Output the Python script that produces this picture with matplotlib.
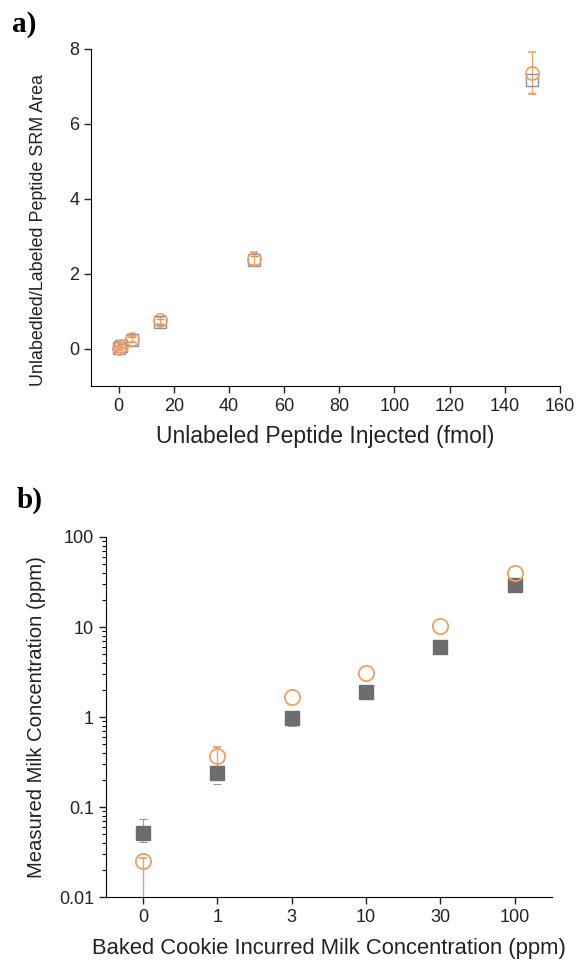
import matplotlib
matplotlib.use('Agg')
import matplotlib.pyplot as plt
import numpy as np

plt.rcParams['font.family'] = ['Liberation Sans', 'DejaVu Sans']

# panel a data
inj = [0, 1, 5, 15, 49, 150]
ratio_sq = [0.01, 0.06, 0.24, 0.70, 2.36, 7.17]
ratio_sq_err = [0.05, 0.05, 0.06, 0.08, 0.12, 0.34]
ratio_ci = [0.02, 0.08, 0.26, 0.75, 2.40, 7.36]
ratio_ci_err = [0.05, 0.06, 0.08, 0.10, 0.18, 0.56]

# panel b data (nan = error bar hidden behind marker)
cats = ['0', '1', '3', '10', '30', '100']
meas_sq = [0.051, 0.24, 0.98, 1.9, 6.0, 29]
meas_sq_lo = [0.010, 0.06, 0.18, 0.3, np.nan, np.nan]
meas_sq_hi = [0.023, np.nan, np.nan, np.nan, np.nan, np.nan]
meas_ci = [0.025, 0.37, 1.67, 3.1, 10.3, 40]
meas_ci_lo = [0.02, 0.09, np.nan, np.nan, np.nan, np.nan]
meas_ci_hi = [0.002, 0.09, np.nan, np.nan, np.nan, np.nan]

orange = '#f0a060'
grey = '#6d6d6d'
ink = '#222222'

fig = plt.figure(figsize=(5.77, 9.66), dpi=100)

# ---- a) ----
ax1 = fig.add_axes([0.1577, 0.6004, 0.8128, 0.3489])
ax1.errorbar(inj, ratio_sq, yerr=ratio_sq_err, fmt='s', ms=8.5, mfc='none',
             mec='#8a8fa8', mew=1.0, ecolor='#c09070', elinewidth=0.8, capsize=3, capthick=0.8)
ax1.errorbar(inj, ratio_ci, yerr=ratio_ci_err, fmt='o', ms=9.5, mfc='none',
             mec=orange, mew=1.2, ecolor=orange, elinewidth=0.8, capsize=3, capthick=0.8)
ax1.set_xlim(-10, 160)
ax1.set_ylim(-1, 8)
ax1.set_xticks(np.arange(0, 161, 20))
ax1.set_yticks([0, 2, 4, 6, 8])
ax1.set_xlabel('Unlabeled Peptide Injected (fmol)', fontsize=16.5, labelpad=7, color=ink)
ax1.set_ylabel('Unlabedled/Labeled Peptide SRM Area', fontsize=12.9, color=ink)
ax1.yaxis.set_label_coords(-0.094, 0.463)
ax1.spines['top'].set_visible(False)
ax1.spines['right'].set_visible(False)
ax1.tick_params(labelsize=13, direction='out', length=5, width=1, colors=ink)
fig.text(0.02, 0.975, 'a)', fontsize=21, fontweight='bold', family='Liberation Serif', va='center')

# ---- b) ----
ax2 = fig.add_axes([0.1832, 0.0714, 0.7735, 0.3727])
xb = np.arange(len(cats))
ax2.errorbar(xb, meas_sq, yerr=[meas_sq_lo, meas_sq_hi], fmt='s', ms=9.5, mfc=grey, mec=grey,
             ecolor='#9a9a9a', elinewidth=0.8, capsize=3, capthick=0.8)
ax2.errorbar(xb, meas_ci, yerr=[meas_ci_lo, meas_ci_hi], fmt='o', ms=11, mfc='none', mec=orange,
             mew=1.3, ecolor=orange, elinewidth=1.0, capsize=3, capthick=0.8)
ax2.set_yscale('log')
ax2.set_ylim(0.01, 100)
ax2.set_xlim(-0.5, 5.5)
ax2.set_xticks(xb)
ax2.set_xticklabels(cats)
ax2.set_yticks([0.01, 0.1, 1, 10, 100])
ax2.set_yticklabels(['0.01', '0.1', '1', '10', '100'])
ax2.set_xlabel('Baked Cookie Incurred Milk Concentration (ppm)', fontsize=15.8, labelpad=9, color=ink)
ax2.set_ylabel('Measured Milk Concentration (ppm)', fontsize=14.6, labelpad=9, color=ink)
ax2.spines['top'].set_visible(False)
ax2.spines['right'].set_visible(False)
ax2.tick_params(labelsize=13, direction='out', length=5, width=1, colors=ink)
ax2.tick_params(which='minor', length=3, width=0.8)
fig.text(0.028, 0.482, 'b)', fontsize=21, fontweight='bold', family='Liberation Serif', va='center')

fig.savefig('out.png', dpi=100)
